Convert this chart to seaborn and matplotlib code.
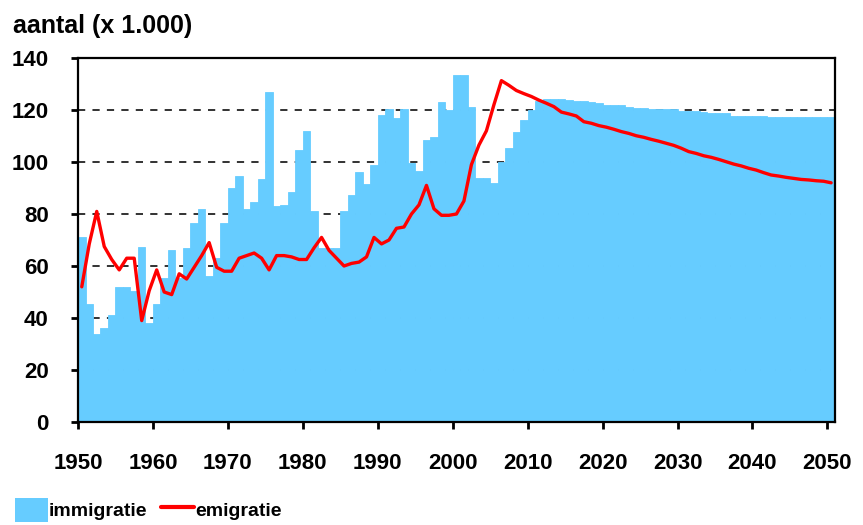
import numpy as np
import matplotlib
matplotlib.use("Agg")
import matplotlib.pyplot as plt
import seaborn as sns
from matplotlib.patches import Patch
from matplotlib.lines import Line2D

# years 1950 .. 2050
years = np.arange(1950, 2051)

# immigratie (x 1.000)
immigratie = [
    71, 45.5, 34, 36, 41, 52, 52, 50.5, 67.5, 38,
    45.5, 55.5, 66, 55.5, 67, 76.5, 82, 56, 63, 76.5,
    90, 94.5, 82, 84.5, 93.5, 127, 83, 83.5, 88.5, 104.5,
    112, 81, 67, 67, 67, 81, 87.5, 96, 91.5, 99,
    118, 120.5, 117, 120.5, 99.5, 96.5, 108.5, 109.5, 123, 120,
    133.5, 133.5, 121, 94, 94, 92, 100, 105.5, 111.5, 116,
    120, 123.5, 124.3, 124.3, 124.2, 123.8, 123.6, 123.5, 123, 122.8,
    122, 122, 121.9, 121, 120.9, 120.9, 120.4, 120.3, 120.3, 120.3,
    119.8, 119.8, 119.8, 119.1, 119, 119, 119, 117.8, 117.7, 117.7,
    117.7, 117.7, 117.2, 117.2, 117.2, 117.2, 117.2, 117.2, 117.2, 117.2,
    117.2,
]

# emigratie (x 1.000)
emigratie = [
    52, 68.5, 81, 67.5, 62.5, 58.5, 63, 63, 39, 50.5,
    58.5, 50, 49, 57, 55, 59.5, 64, 69, 59.5, 58,
    58, 63, 64, 65, 63, 58.5, 64, 64, 63.5, 62.5,
    62.5, 67, 71, 66, 63, 60, 61, 61.5, 63.5, 71,
    68.5, 70, 74.5, 75, 80, 83.5, 91, 82, 79.5, 79.5,
    80, 85, 99, 106.5, 112, 122, 131.3, 129.5, 127.5, 126.3,
    125.2, 123.8, 122.6, 121.3, 119.2, 118.5, 117.7, 115.5, 114.9, 114,
    113.4, 112.6, 111.7, 111, 110.1, 109.5, 108.7, 108, 107.2, 106.4,
    105.3, 104, 103.3, 102.4, 101.8, 101, 100.1, 99.2, 98.5, 97.6,
    96.9, 95.9, 95, 94.6, 94.1, 93.7, 93.3, 93.1, 92.8, 92.6,
    92,
]

x_ticks = list(range(1950, 2051, 10))
y_ticks = list(range(0, 141, 20))

BLUE = "#66CCFF"
RED = "#FF0000"

sns.set_theme(style="white")
plt.rcParams["font.family"] = ["Liberation Sans", "DejaVu Sans"]
plt.rcParams["font.weight"] = "bold"
plt.rcParams["text.color"] = "black"

fig = plt.figure(figsize=(8.63, 5.25), dpi=100)
ax = fig.add_axes([0.0904, 0.1962, 0.877, 0.6933])

# bars occupy [year, year + 1], line points sit at the bar centres
centres = years + 0.5
sns.barplot(x=centres, y=immigratie, native_scale=True, width=1, color=BLUE,
            saturation=1, linewidth=0.6, edgecolor=BLUE, errorbar=None, ax=ax, zorder=2)
sns.lineplot(x=centres, y=emigratie, color=RED, linewidth=2.4, ax=ax, zorder=3)

ax.set_xlim(1950, 2051)
ax.set_ylim(0, 140)
ax.set_xticks(x_ticks)
ax.set_xticklabels([str(t) for t in x_ticks])
ax.set_yticks(y_ticks)
ax.set_yticklabels([str(t) for t in y_ticks])
ax.set_xlabel("")
ax.set_ylabel("")

ax.yaxis.grid(True, linestyle=(0, (4, 4)), color="#222222", linewidth=1.3)
ax.xaxis.grid(False)
ax.set_axisbelow(True)

for side in ["left", "right", "top", "bottom"]:
    ax.spines[side].set_visible(True)
    ax.spines[side].set_color("black")
    ax.spines[side].set_linewidth(1.6)

ax.tick_params(axis="both", which="both", direction="out", length=5, width=2,
               color="black", labelsize=16, labelcolor="black")
ax.tick_params(axis="y", pad=16, left=True)
ax.tick_params(axis="x", pad=17, bottom=True)

fig.text(0.015, 0.974, "aantal (x 1.000)", ha="left", va="top",
         fontsize=18, fontweight="bold", color="black")

handles = [
    Patch(facecolor=BLUE, edgecolor="none"),
    Line2D([0], [0], color=RED, linewidth=3),
]
fig.legend(handles, ["immigratie", "emigratie"], loc="center left",
           bbox_to_anchor=(0.0174, 0.0286), ncol=2, frameon=False,
           fontsize=14, handlelength=1.7, handleheight=1.5,
           handletextpad=0.05, columnspacing=0.7,
           borderpad=0, borderaxespad=0, labelcolor="black")

fig.savefig("out.png", dpi=100)
plt.close(fig)
